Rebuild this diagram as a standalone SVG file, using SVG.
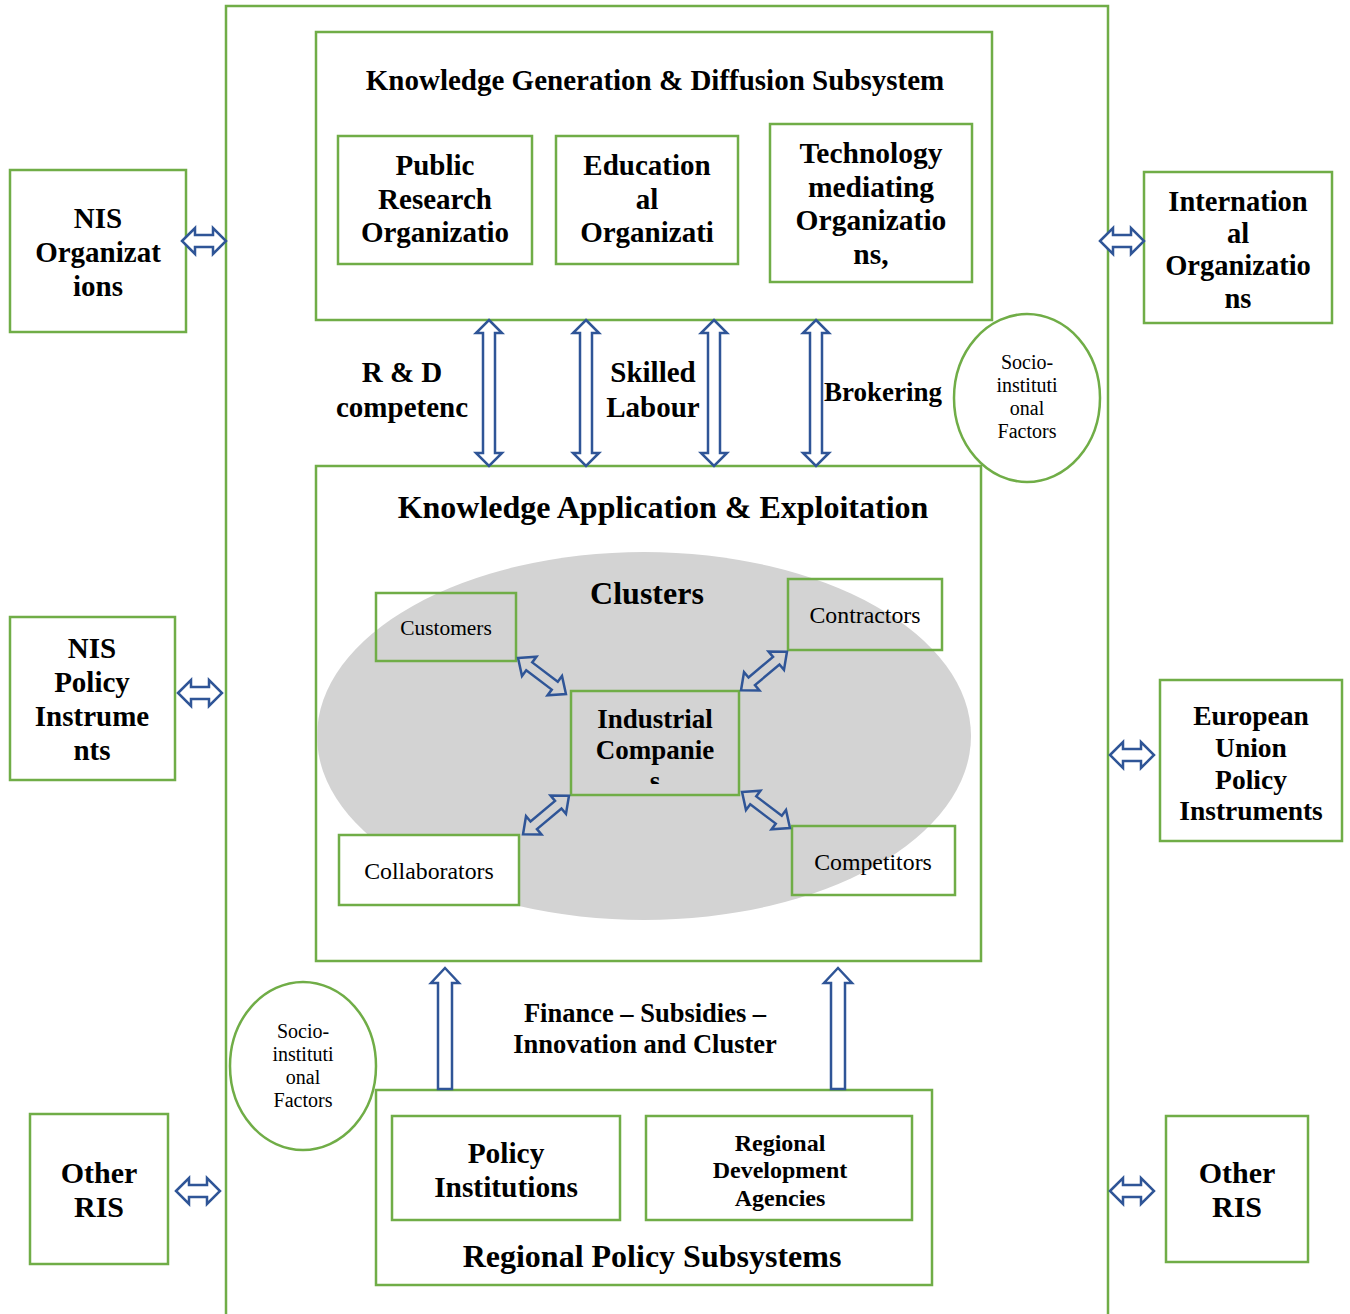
<svg xmlns="http://www.w3.org/2000/svg" width="1350" height="1314" viewBox="0 0 1350 1314">
  <style>
    .box { fill: #FFFFFF; stroke: #70AD47; stroke-width: 2.5; }
    .inbox { fill: none; stroke: #70AD47; stroke-width: 2.5; }
    .arr { fill: #FFFFFF; stroke: #2F5597; stroke-width: 2.5; stroke-linejoin: miter; }
    .arrg { fill: #D3D3D3; stroke: #2F5597; stroke-width: 2.5; }
    .b { font-family: "Liberation Serif", "Times New Roman", serif; font-weight: bold; fill: #000; text-anchor: middle; }
    .r { font-family: "Liberation Serif", "Times New Roman", serif; fill: #000; text-anchor: middle; }
  </style>
  <defs>
    <!-- double-headed block arrow, horizontal, 44 long -->
    <path id="h44" d="M -22 0 L -9 -13 L -9 -6 L 9 -6 L 9 -13 L 22 0 L 9 13 L 9 6 L -9 6 L -9 13 Z"/>
    <!-- double-headed block arrow, vertical, 146 long -->
    <path id="v146" d="M 0 -73 L 13 -60 L 6 -60 L 6 60 L 13 60 L 0 73 L -13 60 L -6 60 L -6 -60 L -13 -60 Z"/>
    <!-- double-headed block arrow used inside the cluster, 60 long -->
    <path id="d60" d="M -30 0 L -16 -12 L -16 -5 L 16 -5 L 16 -12 L 30 0 L 16 12 L 16 5 L -16 5 L -16 12 Z"/>
    <!-- single upward block arrow, 121 long -->
    <path id="up" d="M 0 0 L 14 15 L 7 15 L 7 121 L -7 121 L -7 15 L -14 15 Z"/>
    <clipPath id="indClip">
      <rect x="572" y="692" width="166" height="92"/>
    </clipPath>
  </defs>

  <rect width="1350" height="1314" fill="#FFFFFF"/>

  <!-- regional innovation system frame -->
  <g id="ris-frame">
    <path d="M 226 1316 L 226 6 L 1108 6 L 1108 1316" class="inbox"/>
  </g>

  <!-- knowledge generation & diffusion subsystem -->
  <g id="kgd-subsystem">
    <rect x="316" y="32" width="676" height="288" class="box"/>
    <text x="655" y="90" class="b" font-size="29">Knowledge Generation &amp; Diffusion Subsystem</text>
  </g>
  <g id="public-research">
    <rect x="338" y="136" width="194" height="128" class="box"/>
    <text class="b" font-size="29"><tspan x="435" y="175">Public</tspan><tspan x="435" y="209">Research</tspan><tspan x="435" y="242">Organizatio</tspan></text>
  </g>
  <g id="educational">
    <rect x="556" y="136" width="182" height="128" class="box"/>
    <text class="b" font-size="29"><tspan x="647" y="175">Education</tspan><tspan x="647" y="209">al</tspan><tspan x="647" y="242">Organizati</tspan></text>
  </g>
  <g id="technology-mediating">
    <rect x="770" y="124" width="202" height="158" class="box"/>
    <text class="b" font-size="29.5"><tspan x="871" y="163">Technology</tspan><tspan x="871" y="197">mediating</tspan><tspan x="871" y="230">Organizatio</tspan><tspan x="871" y="264">ns,</tspan></text>
  </g>

  <!-- outside organisations -->
  <g id="nis-organizations">
    <rect x="10" y="170" width="176" height="162" class="box"/>
    <text class="b" font-size="29"><tspan x="98" y="228">NIS</tspan><tspan x="98" y="262">Organizat</tspan><tspan x="98" y="296">ions</tspan></text>
  </g>
  <g id="international-organizations">
    <rect x="1144" y="172" width="188" height="151" class="box"/>
    <text class="b" font-size="28.5"><tspan x="1238" y="211">Internation</tspan><tspan x="1238" y="243">al</tspan><tspan x="1238" y="275">Organizatio</tspan><tspan x="1238" y="308">ns</tspan></text>
  </g>
  <g id="nis-policy">
    <rect x="10" y="617" width="165" height="163" class="box"/>
    <text class="b" font-size="29"><tspan x="92" y="658">NIS</tspan><tspan x="92" y="692">Policy</tspan><tspan x="92" y="726">Instrume</tspan><tspan x="92" y="760">nts</tspan></text>
  </g>
  <g id="eu-policy">
    <rect x="1160" y="680" width="182" height="161" class="box"/>
    <text class="b" font-size="27.5"><tspan x="1251" y="725">European</tspan><tspan x="1251" y="757">Union</tspan><tspan x="1251" y="789">Policy</tspan><tspan x="1251" y="820">Instruments</tspan></text>
  </g>
  <g id="other-ris-left">
    <rect x="30" y="1114" width="138" height="150" class="box"/>
    <text class="b" font-size="30"><tspan x="99" y="1183">Other</tspan><tspan x="99" y="1217">RIS</tspan></text>
  </g>
  <g id="other-ris-right">
    <rect x="1166" y="1116" width="142" height="146" class="box"/>
    <text class="b" font-size="30"><tspan x="1237" y="1183">Other</tspan><tspan x="1237" y="1217">RIS</tspan></text>
  </g>

  <!-- socio-institutional factors -->
  <g id="socio-factors-upper">
    <ellipse cx="1027" cy="398" rx="73" ry="84" class="box"/>
    <text class="r" font-size="20"><tspan x="1027" y="369">Socio-</tspan><tspan x="1027" y="392">instituti</tspan><tspan x="1027" y="415">onal</tspan><tspan x="1027" y="438">Factors</tspan></text>
  </g>
  <g id="socio-factors-lower">
    <ellipse cx="303" cy="1066" rx="73" ry="84" class="box"/>
    <text class="r" font-size="20"><tspan x="303" y="1038">Socio-</tspan><tspan x="303" y="1061">instituti</tspan><tspan x="303" y="1084">onal</tspan><tspan x="303" y="1107">Factors</tspan></text>
  </g>

  <!-- flow labels -->
  <g id="flow-labels">
    <text class="b" font-size="29"><tspan x="402" y="382">R &amp; D</tspan><tspan x="402" y="417">competenc</tspan></text>
    <text class="b" font-size="29"><tspan x="653" y="382">Skilled</tspan><tspan x="653" y="417">Labour</tspan></text>
    <text class="b" font-size="27" x="883" y="401">Brokering</text>
    <text class="b" font-size="26.5"><tspan x="645" y="1022">Finance – Subsidies –</tspan><tspan x="645" y="1053">Innovation and Cluster</tspan></text>
  </g>

  <!-- knowledge application & exploitation subsystem -->
  <g id="kae-subsystem">
    <rect x="316" y="466" width="665" height="495" class="box"/>
    <text x="663" y="518" class="b" font-size="32">Knowledge Application &amp; Exploitation</text>
  </g>
  <g id="clusters">
    <ellipse cx="644" cy="736" rx="327" ry="184" fill="#D3D3D3"/>
    <text x="647" y="604" class="b" font-size="32">Clusters</text>
  </g>
  <g id="customers">
    <rect x="376" y="593" width="140" height="68" class="inbox"/>
    <text x="446" y="635" class="r" font-size="21.4">Customers</text>
  </g>
  <g id="contractors">
    <rect x="788" y="579" width="154" height="71" class="inbox"/>
    <text x="865" y="623" class="r" font-size="23.8">Contractors</text>
  </g>
  <g id="industrial-companies">
    <rect x="571" y="691" width="168" height="104" class="inbox"/>
    <text class="b" font-size="27" clip-path="url(#indClip)"><tspan x="655" y="728">Industrial</tspan><tspan x="655" y="759">Companie</tspan><tspan x="655" y="790">s</tspan></text>
  </g>
  <g id="collaborators">
    <rect x="339" y="835" width="180" height="70" class="box"/>
    <text x="429" y="879" class="r" font-size="23.8">Collaborators</text>
  </g>
  <g id="competitors">
    <rect x="792" y="826" width="163" height="69" class="inbox"/>
    <text x="873" y="870" class="r" font-size="23.8">Competitors</text>
  </g>

  <!-- regional policy subsystem -->
  <g id="regional-policy">
    <rect x="376" y="1090" width="556" height="195" class="box"/>
    <text x="652" y="1267" class="b" font-size="32">Regional Policy Subsystems</text>
  </g>
  <g id="policy-institutions">
    <rect x="392" y="1116" width="228" height="104" class="box"/>
    <text class="b" font-size="29.4"><tspan x="506" y="1163">Policy</tspan><tspan x="506" y="1197">Institutions</tspan></text>
  </g>
  <g id="rda">
    <rect x="646" y="1116" width="266" height="104" class="box"/>
    <text class="b" font-size="24"><tspan x="780" y="1151">Regional</tspan><tspan x="780" y="1178">Development</tspan><tspan x="780" y="1206">Agencies</tspan></text>
  </g>

  <!-- connectors -->
  <g id="connectors">
    <use href="#h44" class="arr" transform="translate(204,241)"/>
    <use href="#h44" class="arr" transform="translate(200,693)"/>
    <use href="#h44" class="arr" transform="translate(198,1191)"/>
    <use href="#h44" class="arr" transform="translate(1122,241)"/>
    <use href="#h44" class="arr" transform="translate(1132,755)"/>
    <use href="#h44" class="arr" transform="translate(1132,1191)"/>

    <use href="#v146" class="arr" transform="translate(489,393)"/>
    <use href="#v146" class="arr" transform="translate(586,393)"/>
    <use href="#v146" class="arr" transform="translate(714,393)"/>
    <use href="#v146" class="arr" transform="translate(816,393)"/>

    <use href="#d60" class="arrg" transform="translate(542,676) rotate(37)"/>
    <use href="#d60" class="arrg" transform="translate(764,671) rotate(-40)"/>
    <use href="#d60" class="arrg" transform="translate(546,815) rotate(-40)"/>
    <use href="#d60" class="arrg" transform="translate(766,810) rotate(37)"/>

    <use href="#up" class="arr" transform="translate(445,968)"/>
    <use href="#up" class="arr" transform="translate(838,968)"/>
  </g>
</svg>
